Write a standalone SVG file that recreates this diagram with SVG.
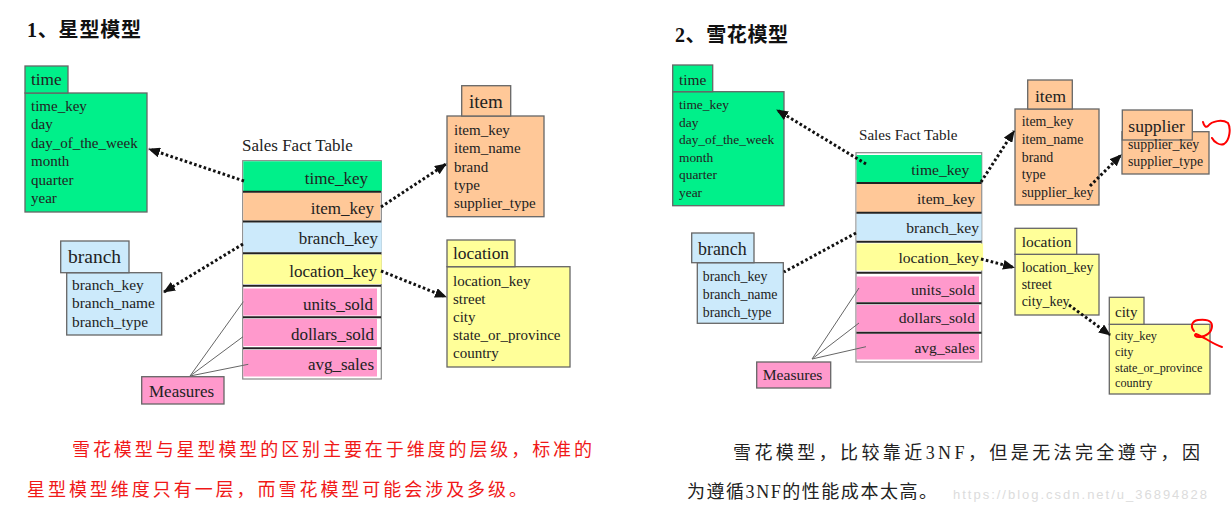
<svg xmlns="http://www.w3.org/2000/svg" width="1231" height="512" viewBox="0 0 1231 512">
<style>
.t{font-family:"Liberation Serif","Noto Sans CJK SC",serif;fill:#222}
.h{font-family:"Liberation Serif","Noto Sans CJK SC",serif;font-weight:bold;fill:#111}
.cj{font-family:"Liberation Serif","Noto Sans CJK SC",serif}
.box{stroke:#666;stroke-width:1.3}
.g{fill:#00F08A}.o{fill:#FFC898}.b{fill:#CCEAFB}.y{fill:#FFFF99}.p{fill:#FF99CC}
.dot{stroke:#111;stroke-width:3;stroke-dasharray:2.6 2.4;fill:none}
.sep{stroke:#222;stroke-width:2}
.ml{stroke:#666;stroke-width:1;fill:none}
.red{stroke:#f00;stroke-width:2;fill:none;stroke-linecap:round}
</style>
<defs>
<marker id="ah" markerUnits="userSpaceOnUse" markerWidth="12" markerHeight="10" refX="11" refY="5" orient="auto">
<path d="M0,0 L12,5 L0,10 Z" fill="#111"/>
</marker>
</defs>
<rect width="1231" height="512" fill="#fff"/>

<!-- titles -->
<text class="h" x="27" y="37" font-size="20" textLength="114">1、星型模型</text>
<text class="h" x="675" y="42" font-size="20" textLength="113">2、雪花模型</text>

<!-- ============ LEFT: star schema ============ -->
<g id="s-time">
<rect class="box g" x="25" y="93" width="122" height="119"/>
<rect class="box g" x="25" y="66" width="43" height="27"/>
<text class="t" x="31" y="85" font-size="17.3">time</text>
<g class="t" font-size="15">
<text x="31" y="111">time_key</text>
<text x="31" y="129.4">day</text>
<text x="31" y="147.8">day_of_the_week</text>
<text x="31" y="166.2">month</text>
<text x="31" y="184.6">quarter</text>
<text x="31" y="203">year</text>
</g>
</g>

<g id="s-fact">
<text class="t" x="242" y="151" font-size="17">Sales Fact Table</text>
<rect x="242.7" y="160.7" width="138.6" height="218.3" fill="#fff" stroke="#888" stroke-width="1.2"/>
<rect class="g" x="243.3" y="161.3" width="138.5" height="29.7"/>
<rect class="o" x="243.3" y="192.5" width="137" height="28"/>
<rect class="b" x="243.3" y="222.5" width="138.5" height="29.5"/>
<rect class="y" x="243.3" y="254.5" width="138.5" height="29.5"/>
<rect class="p" x="243.3" y="288.5" width="133.7" height="27"/>
<rect class="p" x="243.3" y="319" width="133.7" height="27"/>
<rect class="p" x="243.3" y="350" width="133.7" height="26.5"/>
<line class="sep" x1="243" y1="191.8" x2="381" y2="191.8"/>
<line class="sep" x1="243" y1="221.5" x2="381" y2="221.5"/>
<line class="sep" x1="243" y1="253.3" x2="381" y2="253.3"/>
<line class="sep" x1="243" y1="285.8" x2="381" y2="285.8"/>
<line class="sep" x1="243" y1="317.2" x2="381" y2="317.2"/>
<line class="sep" x1="243" y1="348.3" x2="381" y2="348.3"/>
<g class="t" font-size="17" text-anchor="end">
<text x="368" y="184">time_key</text>
<text x="374" y="214">item_key</text>
<text x="378" y="244">branch_key</text>
<text x="377" y="276.5">location_key</text>
<text x="373" y="309.5">units_sold</text>
<text x="374" y="340">dollars_sold</text>
<text x="374" y="370">avg_sales</text>
</g>
</g>

<g id="s-item">
<rect class="box o" x="447" y="116" width="97" height="100.7"/>
<rect class="box o" x="461.7" y="85.7" width="49" height="30.3"/>
<text class="t" x="469" y="108.3" font-size="19">item</text>
<g class="t" font-size="15">
<text x="454" y="135">item_key</text>
<text x="454" y="153.3">item_name</text>
<text x="454" y="171.6">brand</text>
<text x="454" y="189.9">type</text>
<text x="454" y="208.2">supplier_type</text>
</g>
</g>

<g id="s-location">
<rect class="box y" x="447" y="266.7" width="123" height="100.3"/>
<rect class="box y" x="447" y="240" width="68" height="26.7"/>
<text class="t" x="453" y="259.3" font-size="17.4">location</text>
<g class="t" font-size="15">
<text x="453" y="285.7">location_key</text>
<text x="453" y="303.9">street</text>
<text x="453" y="322">city</text>
<text x="453" y="340.2">state_or_province</text>
<text x="453" y="358.3">country</text>
</g>
</g>

<g id="s-branch">
<rect class="box b" x="66.7" y="272.7" width="95" height="62.3"/>
<rect class="box b" x="60.7" y="241" width="68.3" height="31.7"/>
<text class="t" x="68" y="263.3" font-size="19.5">branch</text>
<g class="t" font-size="15.4">
<text x="72" y="290">branch_key</text>
<text x="72" y="308.3">branch_name</text>
<text x="72" y="326.6">branch_type</text>
</g>
</g>

<g id="s-measures">
<rect class="box p" x="141.7" y="376.7" width="82.3" height="27.3"/>
<text class="t" x="149" y="396.5" font-size="17">Measures</text>
</g>

<g id="s-connectors">
<path class="dot" d="M244,181 L149,149" marker-end="url(#ah)"/>
<path class="dot" d="M243,244 L164,292" marker-end="url(#ah)"/>
<path class="dot" d="M381,207 L446,164" marker-end="url(#ah)"/>
<path class="dot" d="M381,271 L446,297" marker-end="url(#ah)"/>
<path class="ml" d="M190,376 L243.3,301.7 M190,376 L243,336.7 M190,376 L248.3,364.3"/>
</g>

<!-- ============ RIGHT: snowflake schema ============ -->
<g id="f-time">
<rect class="box g" x="672.7" y="91.7" width="111.3" height="114"/>
<rect class="box g" x="672.7" y="65" width="40" height="26.7"/>
<text class="t" x="679" y="85" font-size="15.4">time</text>
<g class="t" font-size="13.4">
<text x="679" y="109.3">time_key</text>
<text x="679" y="126.8">day</text>
<text x="679" y="144.3">day_of_the_week</text>
<text x="679" y="161.8">month</text>
<text x="679" y="179.3">quarter</text>
<text x="679" y="196.8">year</text>
</g>
</g>

<g id="f-fact">
<text class="t" x="859" y="140" font-size="15.1">Sales Fact Table</text>
<rect x="856" y="152.7" width="125.7" height="209.3" fill="#fff" stroke="#888" stroke-width="1.2"/>
<rect class="g" x="856.6" y="155" width="125" height="27"/>
<rect class="o" x="856.6" y="184" width="124.5" height="28"/>
<rect class="b" x="856.6" y="213.5" width="125" height="26.5"/>
<rect class="y" x="856.6" y="243.5" width="126.5" height="27"/>
<rect class="p" x="856.6" y="276.5" width="122.4" height="25.5"/>
<rect class="p" x="856.6" y="305" width="122.4" height="26.5"/>
<rect class="p" x="856.6" y="334" width="122.4" height="25.5"/>
<line class="sep" x1="856.5" y1="183" x2="981.5" y2="183"/>
<line class="sep" x1="856.5" y1="212.7" x2="981.5" y2="212.7"/>
<line class="sep" x1="856.5" y1="241.7" x2="981.5" y2="241.7"/>
<line class="sep" x1="856.5" y1="272.7" x2="981.5" y2="272.7"/>
<line class="sep" x1="856.5" y1="303.3" x2="981.5" y2="303.3"/>
<line class="sep" x1="856.5" y1="332.7" x2="981.5" y2="332.7"/>
<g class="t" font-size="15.6" text-anchor="end">
<text x="969.3" y="175">time_key</text>
<text x="975" y="204.3">item_key</text>
<text x="979" y="233.3">branch_key</text>
<text x="979" y="263.3">location_key</text>
<text x="975" y="295">units_sold</text>
<text x="975" y="323.3">dollars_sold</text>
<text x="975" y="353.3">avg_sales</text>
</g>
</g>

<g id="f-branch">
<rect class="box b" x="697.3" y="262.7" width="86" height="60.6"/>
<rect class="box b" x="691.7" y="233" width="62.3" height="29.7"/>
<text class="t" x="698" y="255" font-size="17.9">branch</text>
<g class="t" font-size="13.9">
<text x="702.7" y="281">branch_key</text>
<text x="702.7" y="298.8">branch_name</text>
<text x="702.7" y="316.6">branch_type</text>
</g>
</g>

<g id="f-measures">
<rect class="box p" x="756.7" y="362" width="74" height="26"/>
<text class="t" x="762.7" y="380" font-size="15.6">Measures</text>
</g>

<g id="f-item">
<rect class="box o" x="1015" y="109" width="84" height="96"/>
<rect class="box o" x="1027.7" y="80" width="44.6" height="29"/>
<text class="t" x="1035" y="101.7" font-size="17.4">item</text>
<g class="t" font-size="13.9">
<text x="1021.7" y="126">item_key</text>
<text x="1021.7" y="143.8">item_name</text>
<text x="1021.7" y="161.6">brand</text>
<text x="1021.7" y="179.4">type</text>
<text x="1021.7" y="197.2">supplier_key</text>
</g>
</g>

<g id="f-supplier">
<rect class="box o" x="1122" y="131.7" width="87" height="42.3"/>
<rect class="box o" x="1122.3" y="110" width="70" height="30"/>
<text class="t" x="1128.3" y="132.3" font-size="17.6">supplier</text>
<g class="t" font-size="13.8">
<text x="1128" y="149.3">supplier_key</text>
<text x="1128" y="166">supplier_type</text>
</g>
</g>

<g id="f-location">
<rect class="box y" x="1015" y="254.3" width="84" height="60.7"/>
<rect class="box y" x="1015" y="228.3" width="61.7" height="26"/>
<text class="t" x="1021.7" y="247.3" font-size="15.5">location</text>
<g class="t" font-size="13.9">
<text x="1021.7" y="271.7">location_key</text>
<text x="1021.7" y="288.8">street</text>
<text x="1021.7" y="306">city_key</text>
</g>
</g>

<g id="f-city">
<rect class="box y" x="1109.3" y="324.3" width="100.7" height="69.7"/>
<rect class="box y" x="1109.3" y="297.3" width="34.7" height="27"/>
<text class="t" x="1115" y="316.7" font-size="15">city</text>
<g class="t" font-size="12.2">
<text x="1115" y="340">city_key</text>
<text x="1115" y="355.8">city</text>
<text x="1115" y="371.6">state_or_province</text>
<text x="1115" y="387.4">country</text>
</g>
</g>

<g id="f-connectors">
<path class="dot" d="M866,164 L777,110" marker-end="url(#ah)"/>
<path class="dot" d="M981,182 L1014,131" marker-end="url(#ah)"/>
<path class="dot" d="M856,233 L784,272"/>
<path class="dot" d="M981,259 L1014,267.5" marker-end="url(#ah)"/>
<path class="dot" d="M1090,186 L1121,155" marker-end="url(#ah)"/>
<path class="dot" d="M1069,305 L1110,335" marker-end="url(#ah)"/>
<path class="ml" d="M812,359 L859,288 M812,359 L859,323 M812,359 L866,346.7"/>
</g>

<!-- red hand marks -->
<path class="red" d="M1203,122 C1204,126 1206,128 1208,126 C1212,121 1222,119 1228,123 C1231,128 1230,140 1224,144 C1220,146 1214,142 1212,138"/>
<path class="red" d="M1194,331 C1190,326 1192,321 1198,320 C1205,319 1212,320 1212,326 C1212,332 1206,337 1199,337 C1195,337 1194,335 1196,334 C1203,336 1212,344 1222,347"/>

<!-- paragraphs -->
<g class="cj" font-size="18">
<text x="72" y="456" fill="#f01818" textLength="520">雪花模型与星型模型的区别主要在于维度的层级，标准的</text>
<text x="27" y="496" fill="#f01818" textLength="500">星型模型维度只有一层，而雪花模型可能会涉及多级。</text>
<text x="733" y="459" fill="#222" textLength="467">雪花模型，比较靠近3NF，但是无法完全遵守，因</text>
<text x="687" y="498" fill="#222" textLength="250">为遵循3NF的性能成本太高。</text>
</g>
<text x="953" y="499" font-family="Liberation Sans, sans-serif" font-size="13" fill="#dcdcdc" textLength="254">https://blog.csdn.net/u_36894828</text>
</svg>
